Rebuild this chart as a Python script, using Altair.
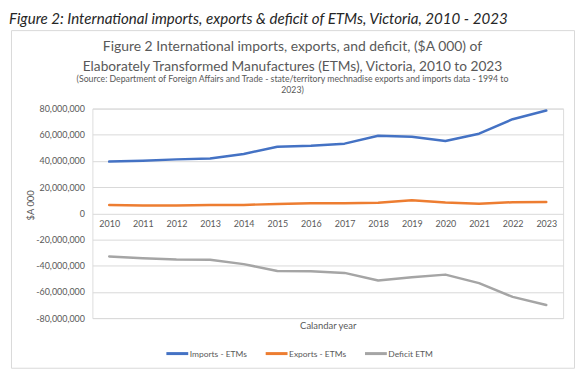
import altair as alt
import pandas as pd

years = [2010, 2011, 2012, 2013, 2014, 2015, 2016, 2017, 2018, 2019, 2020, 2021, 2022, 2023]
imports_etm = [39500000, 40200000, 41200000, 41800000, 45300000, 50900000, 51600000,
               53200000, 59200000, 58500000, 55200000, 60800000, 71900000, 78500000]
exports_etm = [6400000, 5900000, 5900000, 6400000, 6400000, 7200000, 7700000,
               7700000, 8000000, 10000000, 8200000, 7400000, 8500000, 8700000]
deficit_etm = [-33000000, -34300000, -35300000, -35500000, -38800000, -44000000, -44300000,
               -45500000, -51300000, -48800000, -46800000, -53300000, -63800000, -70000000]

series_names = ["Imports - ETMs", "Exports - ETMs", "Deficit ETM"]
series_colors = ["#4472C4", "#ED7D31", "#A5A5A5"]
y_ticks = [-80000000, -60000000, -40000000, -20000000, 0, 20000000, 40000000, 60000000, 80000000]

heading = "Figure 2: International imports, exports & deficit of ETMs, Victoria, 2010 - 2023"
title_1 = "Figure 2  International imports, exports, and deficit, ($A 000) of"
title_2 = "Elaborately Transformed Manufactures (ETMs), Victoria, 2010 to 2023"
source_1 = "(Source: Department of Foreign Affairs and Trade - state/territory mechnadise exports and imports data  - 1994 to"
source_2 = "2023)"

rows = []
for name, vals in zip(series_names, [imports_etm, exports_etm, deficit_etm]):
    for yr, v in zip(years, vals):
        rows.append({"year": yr, "value": v, "series": name})
df = pd.DataFrame(rows)
one = pd.DataFrame({"k": [0]})

W, H = 474, 211
FONT = "Lato"
GREY = "#595959"

box = alt.Chart(one).mark_rect(filled=False, stroke="#D9D9D9", strokeWidth=1).encode(
    x=alt.value(-81.5), x2=alt.value(485.5), y=alt.value(-78.5), y2=alt.value(261.5)
)

def txt(s, x, y, size, align="center", color=GREY, style="normal", weight="normal"):
    return alt.Chart(one).mark_text(
        font=FONT, fontSize=size, align=align, baseline="middle", color=color,
        fontStyle=style, fontWeight=weight
    ).encode(text=alt.value(s), x=alt.value(x), y=alt.value(y))

cx = 294.5 - 8 - 85
texts = [
    txt(heading, -84, -90, 15.2, align="left", color="#262626", style="italic"),
    txt(title_1, cx, -62, 14),
    txt(title_2, cx, -42, 13.8),
    txt(source_1, cx, -30, 8.8),
    txt(source_2, cx, -19, 8.8),
]

lines = alt.Chart(df).mark_line(strokeWidth=2.5, strokeCap="round", strokeJoin="round").encode(
    x=alt.X("year:O", scale=alt.Scale(type="point", padding=0.5),
            axis=alt.Axis(labelAngle=0, offset=-106, domain=False, ticks=False, grid=False,
                          labelPadding=7, labelFontSize=9, labelColor=GREY, labelFont=FONT,
                          title="Calandar year", titleFont=FONT, titleFontSize=9.5,
                          titleFontWeight="normal", titleColor=GREY, titleY=113,
                          titleBaseline="middle")),
    y=alt.Y("value:Q", scale=alt.Scale(domain=[-80000000, 80000000], nice=False),
            axis=alt.Axis(values=y_ticks, domain=False, ticks=False, grid=True, gridColor="#D9D9D9",
                          labelExpr="replace(format(datum.value, ','), '\u2212', '-')",
                          labelPadding=8, labelFontSize=9, labelColor=GREY, labelFont=FONT,
                          title="$A 000", titleFont=FONT, titleFontSize=9.5, titleFontWeight="normal",
                          titleColor=GREY, titleX=-62, titleY=97, titleBaseline="middle")),
    color=alt.Color("series:N", scale=alt.Scale(domain=series_names, range=series_colors),
                    legend=alt.Legend(orient="none", legendX=73, legendY=234, direction="horizontal",
                                      title=None, symbolType="stroke", symbolSize=484,
                                      symbolStrokeWidth=3, labelFontSize=8.5, labelColor=GREY,
                                      labelFont=FONT, columnPadding=12, labelOffset=0, padding=0)),
)

chart = alt.layer(box, *texts, lines).properties(
    width=W, height=H,
    autosize=alt.AutoSizeParams(type="none"),
    padding={"left": 85, "right": 13, "top": 100, "bottom": 51},
).configure_view(stroke=None).configure(background="white")

chart.save("out.html", embed_options={"renderer": "svg", "actions": False})
